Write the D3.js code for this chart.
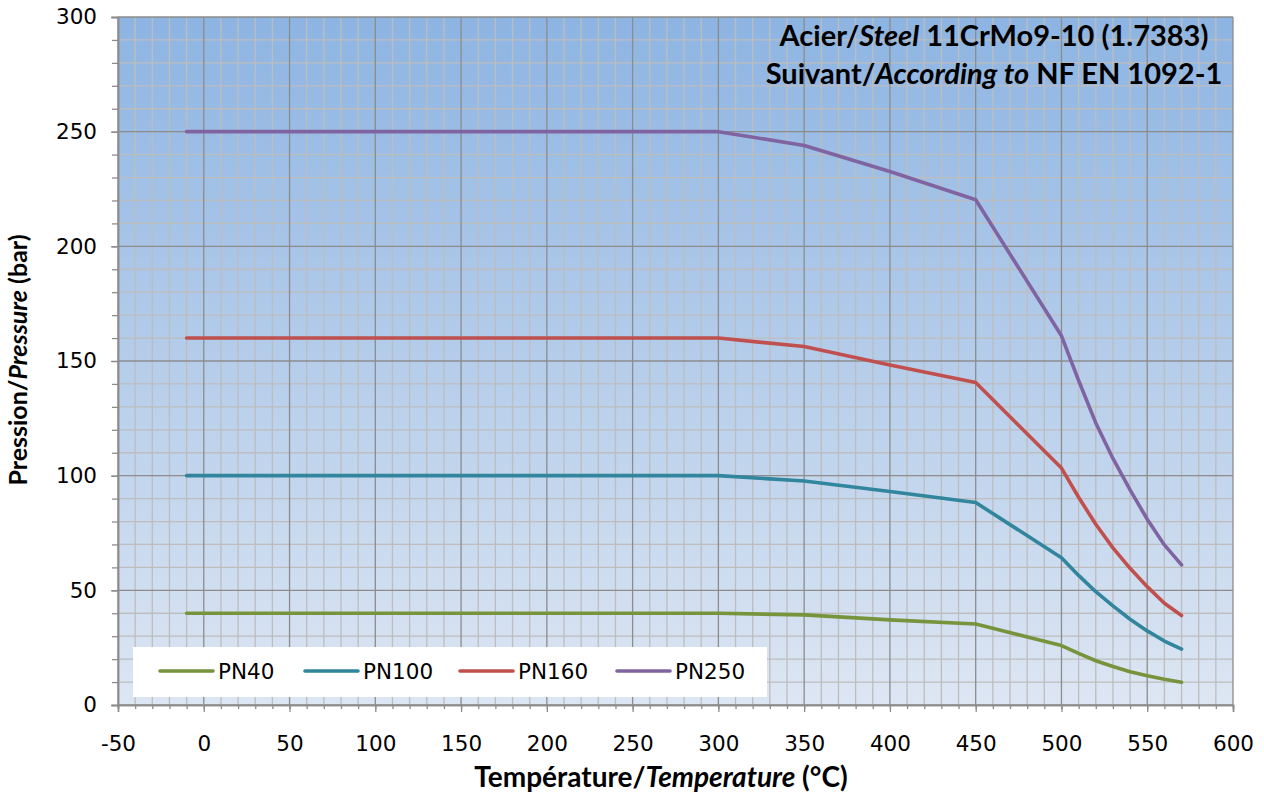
<!DOCTYPE html>
<html><head><meta charset="utf-8">
<script src="https://cdn.jsdelivr.net/npm/d3@7"></script>
<style>body{margin:0;background:#fff}svg{display:block}</style>
</head><body>
<svg id="c" width="1264" height="796"></svg>
<script>
const temps = [-10, 300, 350, 400, 450, 500, 510, 520, 530, 540, 550, 560, 570];
const pn40  = [40, 40, 39.3, 37.1, 35.3, 25.9, 22.5, 19.3, 16.8, 14.5, 12.8, 11.2, 9.9];
const pn100 = [100, 100, 97.7, 93.1, 88.3, 64.2, 56.5, 49.4, 43.2, 37.4, 32.3, 27.9, 24.4];
const pn160 = [160, 160, 156.3, 148.3, 140.6, 103.3, 90.6, 78.8, 68.5, 59.6, 51.6, 44.4, 39.0];
const pn250 = [250, 250, 244, 232.6, 220.3, 161, 141.5, 123, 107.5, 93.8, 81, 69.8, 61.1];
const seriesNames = ["PN40", "PN100", "PN160", "PN250"];
const seriesColors = ["#77933C", "#31859C", "#C0504D", "#8064A2"];
const xTicks = [-50, 0, 50, 100, 150, 200, 250, 300, 350, 400, 450, 500, 550, 600];
const yTicks = [0, 50, 100, 150, 200, 250, 300];

const svg = d3.select("#c");
const L = 118, R = 1233, T = 17, B = 705;
const x = d3.scaleLinear().domain([-50, 600]).range([L, R]);
const y = d3.scaleLinear().domain([0, 300]).range([B, T]);
const fmt = d => String(d);
const numFont = "DejaVu Sans, Verdana, sans-serif";

const defs = svg.append("defs");
const grad = defs.append("linearGradient").attr("id", "bg").attr("x1", 0).attr("y1", 0).attr("x2", 0).attr("y2", 1);
grad.append("stop").attr("offset", "0%").attr("stop-color", "#8DB4E2");
grad.append("stop").attr("offset", "100%").attr("stop-color", "#DDE6F3");
svg.append("rect").attr("x", L).attr("y", T).attr("width", R - L).attr("height", B - T).attr("fill", "url(#bg)");

// grid
const minorX = d3.range(-50, 601, 10).filter(v => v % 50 !== 0);
const minorY = d3.range(0, 301, 10).filter(v => v % 50 !== 0);
const g = svg.append("g");
g.selectAll(".mx").data(minorX).enter().append("line")
  .attr("x1", d => x(d)).attr("x2", d => x(d)).attr("y1", T).attr("y2", B)
  .attr("stroke", "#BDBDBD").attr("stroke-width", 1.3);
g.selectAll(".my").data(minorY).enter().append("line")
  .attr("y1", d => y(d)).attr("y2", d => y(d)).attr("x1", L).attr("x2", R)
  .attr("stroke", "#BDBDBD").attr("stroke-width", 1.3);
g.selectAll(".Mx").data(xTicks).enter().append("line")
  .attr("x1", d => x(d)).attr("x2", d => x(d)).attr("y1", T).attr("y2", B)
  .attr("stroke", "#8C8C8C").attr("stroke-width", 1.3);
g.selectAll(".My").data(yTicks).enter().append("line")
  .attr("y1", d => y(d)).attr("y2", d => y(d)).attr("x1", L).attr("x2", R)
  .attr("stroke", "#8C8C8C").attr("stroke-width", 1.3);

// axes
const xMinorAxis = d3.axisBottom(x).tickValues(d3.range(-50, 601, 10)).tickSize(4).tickFormat("");
const xAxis = d3.axisBottom(x).tickValues(xTicks).tickSize(7).tickPadding(24).tickFormat(fmt);
const yMinorAxis = d3.axisLeft(y).tickValues(d3.range(0, 301, 10)).tickSize(6).tickFormat("");
const yAxis = d3.axisLeft(y).tickValues(yTicks).tickSize(7).tickPadding(14).tickFormat(fmt);
function styleAxis(sel){
  sel.select(".domain").attr("stroke", "#8C8C8C").attr("stroke-width", 1.5);
  sel.selectAll(".tick line").attr("stroke", "#8C8C8C").attr("stroke-width", 1.3);
  sel.selectAll("text").attr("fill", "#000").style("font-family", numFont).style("font-size", "21.5px");
}
svg.append("g").attr("transform", `translate(0,${B})`).call(xMinorAxis).call(styleAxis);
svg.append("g").attr("transform", `translate(0,${B})`).call(xAxis).call(styleAxis);
svg.append("g").attr("transform", `translate(${L},0)`).call(yMinorAxis).call(styleAxis);
svg.append("g").attr("transform", `translate(${L},0)`).call(yAxis).call(styleAxis);

// series
const allSeries = [pn40, pn100, pn160, pn250];
const line = d3.line().x((d, i) => x(temps[i])).y(d => y(d));
allSeries.forEach((s, k) => {
  svg.append("path").datum(s).attr("d", line).attr("fill", "none")
    .attr("stroke", seriesColors[k]).attr("stroke-width", 3.6)
    .attr("stroke-linejoin", "round").attr("stroke-linecap", "round");
});

// legend
const lg = svg.append("g");
lg.append("rect").attr("x", 133).attr("y", 647).attr("width", 634).attr("height", 50).attr("fill", "#fff");
const legX = [160, 305, 460, 617];
seriesNames.forEach((n, k) => {
  lg.append("line").attr("x1", legX[k]).attr("x2", legX[k] + 53).attr("y1", 671).attr("y2", 671)
    .attr("stroke", seriesColors[k]).attr("stroke-width", 3.6).attr("stroke-linecap", "round");
  lg.append("text").attr("x", legX[k] + 58).attr("y", 679).text(n)
    .style("font-family", numFont).style("font-size", "21.5px").attr("fill", "#000");
});

// titles
const tf = "Lato, Calibri, sans-serif";
const t1 = svg.append("text").attr("x", 994).attr("y", 46).attr("text-anchor", "middle")
  .style("font-family", tf).style("font-size", "29px").style("font-weight", "bold");
t1.append("tspan").text("Acier/");
t1.append("tspan").text("Steel").style("font-style", "italic");
t1.append("tspan").text(" 11CrMo9-10 (1.7383)");
const t2 = svg.append("text").attr("x", 994).attr("y", 84).attr("text-anchor", "middle")
  .style("font-family", tf).style("font-size", "29px").style("font-weight", "bold");
t2.append("tspan").text("Suivant/");
t2.append("tspan").text("According to").style("font-style", "italic");
t2.append("tspan").text(" NF EN 1092-1");

const xt = svg.append("text").attr("x", 661).attr("y", 787).attr("text-anchor", "middle")
  .style("font-family", tf).style("font-size", "28px").style("font-weight", "bold");
xt.append("tspan").text("Température/");
xt.append("tspan").text("Temperature").style("font-style", "italic");
xt.append("tspan").text(" (°C)");

const yt = svg.append("text").attr("transform", "translate(27,360) rotate(-90)").attr("text-anchor", "middle")
  .style("font-family", tf).style("font-size", "25px").style("font-weight", "bold");
yt.append("tspan").text("Pression/");
yt.append("tspan").text("Pressure").style("font-style", "italic");
yt.append("tspan").text(" (bar)");
</script>
</body></html>
